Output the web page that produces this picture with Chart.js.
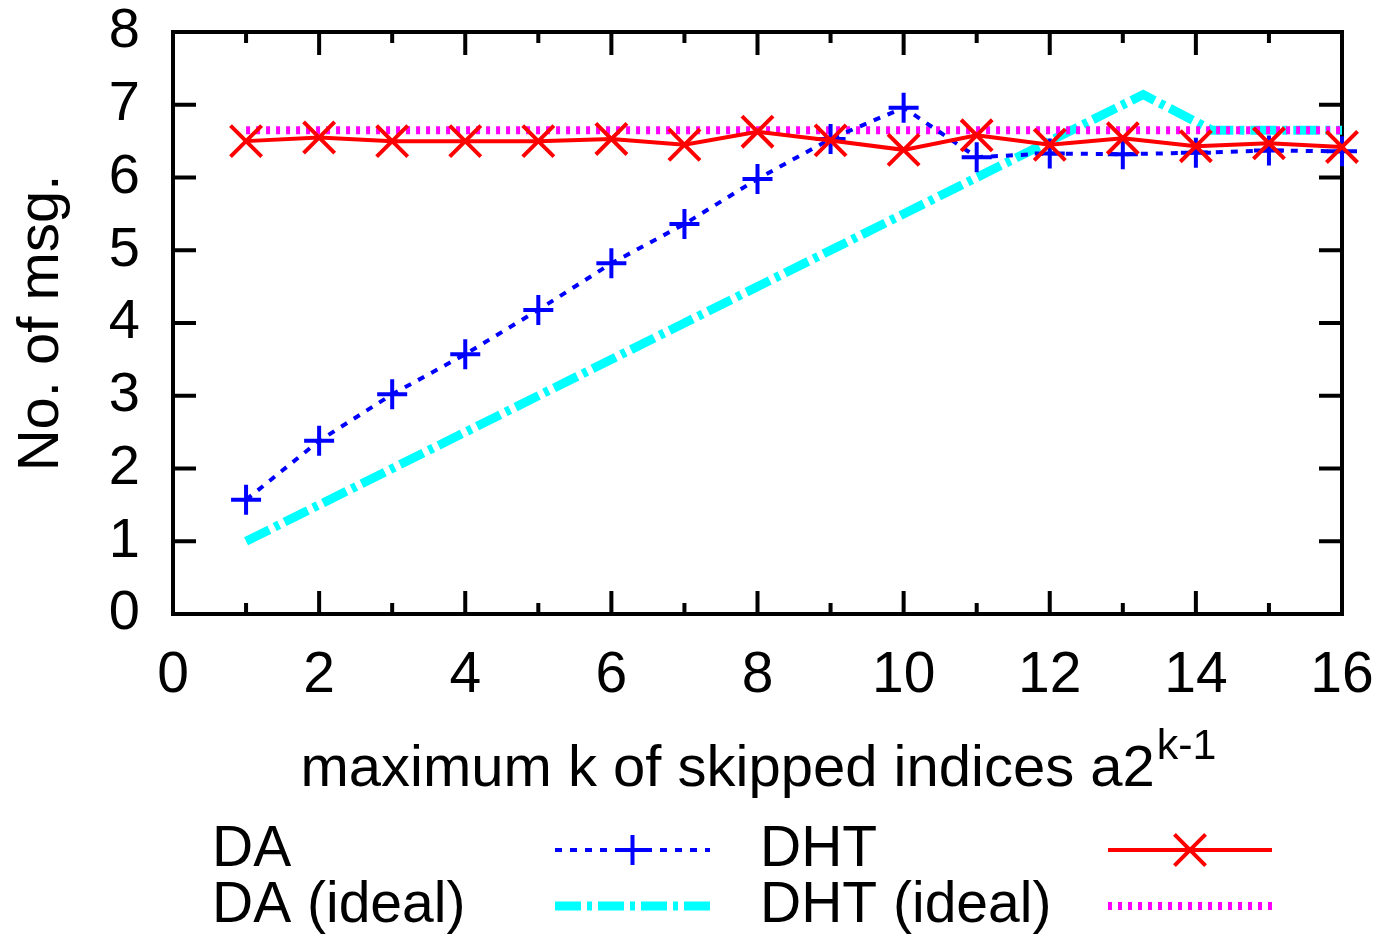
<!DOCTYPE html>
<html>
<head>
<meta charset="utf-8">
<script src="https://cdn.jsdelivr.net/npm/chart.js@4/dist/chart.umd.min.js"></script>
<style>
  html, body { margin: 0; padding: 0; background: #fff; }
  #chart { display: block; }
</style>
</head>
<body>
<canvas id="chart" width="1379" height="938"></canvas>
<script>
	// values
	var kValues = [1, 2, 3, 4, 5, 6, 7, 8, 9, 10, 11, 12, 13, 14, 15, 16];
	var daMsgs = [1.57, 2.38, 3.02, 3.57, 4.18, 4.82, 5.36, 5.98, 6.53, 6.96, 6.28, 6.33, 6.32, 6.34, 6.37, 6.36];
	var dhtMsgs = [6.50, 6.55, 6.50, 6.50, 6.50, 6.53, 6.45, 6.63, 6.51, 6.38, 6.58, 6.45, 6.54, 6.43, 6.47, 6.42];
	var daIdealK = [1, 3, 5, 7, 9, 11, 13.28, 14.22, 16];
	var daIdealMsgs = [1, 2, 3, 4, 5, 6, 7.14, 6.65, 6.65];
	var dhtIdealMsgs = [6.65, 6.65, 6.65, 6.65, 6.65, 6.65, 6.65, 6.65, 6.65, 6.65, 6.65, 6.65, 6.65, 6.65, 6.65, 6.65];
	var xTicks = [0, 2, 4, 6, 8, 10, 12, 14, 16];
	var yTicks = [0, 1, 2, 3, 4, 5, 6, 7, 8];

	var FONT = 'Liberation Sans, Arial, sans-serif';
	Chart.defaults.color = '#000';
	Chart.defaults.font.family = FONT;

	function pts(xs, ys){
		return xs.map((x, i) => ({x: x, y: ys[i]}));
	}

	// legend slot for every dataset: [column, row]
	var legendSlots = {'DA': [0, 0], 'DHT': [1, 0], 'DA (ideal)': [0, 1], 'DHT (ideal)': [1, 1]};

	var framePlugin = {
		id: 'frame',
		beforeDatasetsDraw(chart){
			let ctx = chart.ctx, a = chart.chartArea;
			let xs = chart.scales.x, ys = chart.scales.y;
			ctx.save();
			ctx.strokeStyle = '#000';
			ctx.lineWidth = 4;
			ctx.beginPath();
			for (let v = 1; v < 16; v++){
				let px = xs.getPixelForValue(v);
				let len = v % 2 ? 11 : 23;
				ctx.moveTo(px, a.bottom); ctx.lineTo(px, a.bottom - len);
				ctx.moveTo(px, a.top); ctx.lineTo(px, a.top + len);
			}
			for (let v = 1; v < 8; v++){
				let py = ys.getPixelForValue(v);
				ctx.moveTo(a.left, py); ctx.lineTo(a.left + 23, py);
				ctx.moveTo(a.right, py); ctx.lineTo(a.right - 23, py);
			}
			ctx.stroke();
			ctx.strokeRect(a.left, a.top, a.right - a.left, a.bottom - a.top);
			ctx.restore();
		},
		afterDatasetsDraw(chart){
			let ctx = chart.ctx, a = chart.chartArea;
			ctx.save();

			// x axis title with superscript
			let main = 'maximum k of skipped indices a2', sup = 'k-1';
			ctx.fillStyle = '#000';
			ctx.textBaseline = 'alphabetic';
			ctx.textAlign = 'left';
			ctx.font = '58px ' + FONT;
			let w1 = ctx.measureText(main).width;
			ctx.font = '43px ' + FONT;
			let w2 = ctx.measureText(sup).width;
			let x0 = (a.left + a.right) / 2 - (w1 + w2) / 2;
			ctx.font = '58px ' + FONT;
			ctx.fillText(main, x0, 786);
			ctx.font = '43px ' + FONT;
			ctx.fillText(sup, x0 + w1 + 2, 759);

			// legend
			let colText = [212, 760], colLine = [[555, 710], [1108, 1272]], rowY = [850, 906];
			chart.data.datasets.forEach(ds => {
				let slot = legendSlots[ds.label];
				let y = rowY[slot[1]];
				ctx.font = '57px ' + FONT;
				ctx.textBaseline = 'middle';
				ctx.fillStyle = '#000';
				ctx.fillText(ds.label, colText[slot[0]], y);
				let l = colLine[slot[0]];
				ctx.save();
				ctx.strokeStyle = ds.borderColor;
				ctx.lineWidth = ds.borderWidth;
				ctx.setLineDash(ds.borderDash || []);
				ctx.beginPath();
				ctx.moveTo(l[0], y); ctx.lineTo(l[1], y);
				ctx.stroke();
				ctx.restore();
				if (ds.pointRadius > 0){
					ctx.save();
					ctx.strokeStyle = ds.borderColor;
					Chart.helpers.drawPoint(ctx, {pointStyle: ds.pointStyle, radius: ds.pointRadius, borderWidth: ds.pointBorderWidth}, (l[0] + l[1]) / 2, y);
					ctx.restore();
				}
			});
			ctx.restore();
		}
	};

	var chart = new Chart(document.getElementById('chart'), {
		type: 'line',
		data: {
			datasets: [{
				label: 'DHT',
				data: pts(kValues, dhtMsgs),
				borderColor: '#ff0000',
				borderWidth: 4,
				pointStyle: 'crossRot',
				pointRadius: 22,
				pointBorderWidth: 4,
				pointBorderColor: '#ff0000',
				clip: false
			}, {
				label: 'DA',
				data: pts(kValues, daMsgs),
				borderColor: '#0000ff',
				borderWidth: 4,
				borderDash: [7, 8],
				pointStyle: 'cross',
				pointRadius: 15,
				pointBorderWidth: 4,
				pointBorderColor: '#0000ff',
				clip: false
			}, {
				label: 'DHT (ideal)',
				data: pts(kValues, dhtIdealMsgs),
				borderColor: '#ff00ff',
				borderWidth: 8,
				borderDash: [4, 6],
				pointRadius: 0
			}, {
				label: 'DA (ideal)',
				data: pts(daIdealK, daIdealMsgs),
				borderColor: '#00ffff',
				borderWidth: 9,
				borderDash: [26, 6, 5, 6],
				pointRadius: 0
			}]
		},
		options: {
			responsive: false,
			devicePixelRatio: 1,
			animation: false,
			layout: {padding: {left: 0, top: 32, right: 37, bottom: 0}},
			plugins: {legend: {display: false}, tooltip: {enabled: false}},
			elements: {line: {tension: 0, fill: false, borderCapStyle: 'butt'}},
			scales: {
				x: {
					type: 'linear',
					min: 0, max: 16,
					afterBuildTicks: s => { s.ticks = xTicks.map(v => ({value: v})); },
					afterFit: s => { s.height = 324; s.paddingLeft = 0; s.paddingRight = 0; },
					grid: {display: false, drawTicks: false},
					border: {display: false},
					ticks: {font: {size: 57}, padding: 28, maxRotation: 0, autoSkip: false}
				},
				y: {
					min: 0, max: 8,
					afterBuildTicks: s => { s.ticks = yTicks.map(v => ({value: v})); },
					afterFit: s => { s.width = 173; s.paddingTop = 0; s.paddingBottom = 0; },
					grid: {display: false, drawTicks: false},
					border: {display: false},
					ticks: {font: {size: 56}, padding: 33, autoSkip: false},
					title: {display: true, text: 'No. of msg.', font: {size: 58}, padding: {top: 7, bottom: 0}}
				}
			}
		},
		plugins: [framePlugin]
	});
</script>
</body>
</html>
